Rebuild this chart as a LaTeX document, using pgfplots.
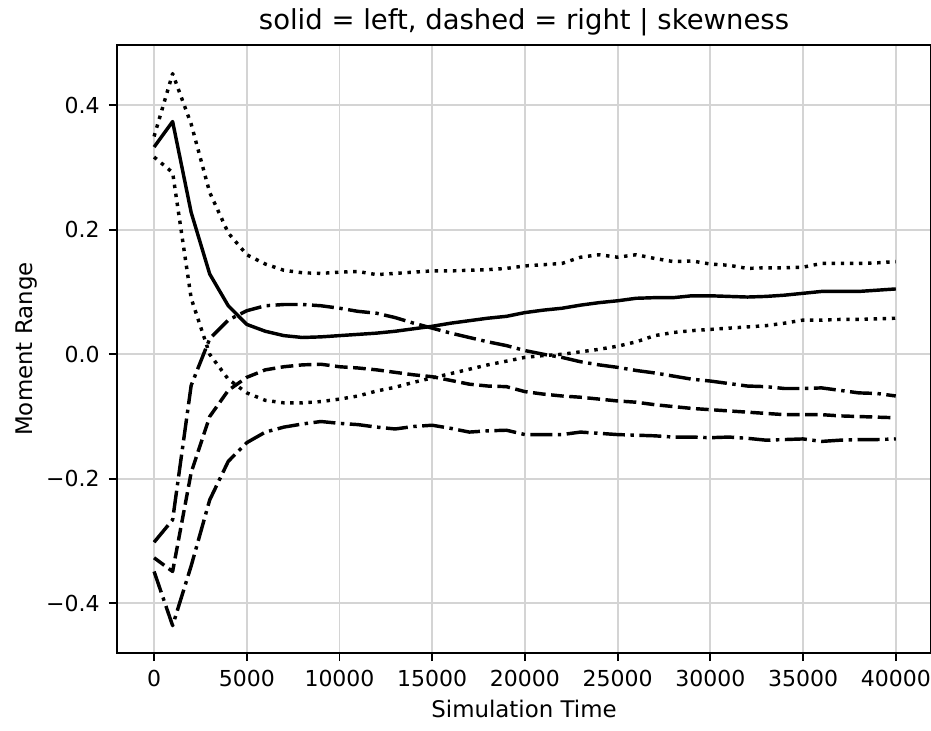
\documentclass[border=0pt]{standalone}
\usepackage{fontspec}
\setmainfont{DejaVu Sans}
\usepackage{pgfplots}
\usepackage{pgfplotstable}
\pgfplotsset{compat=1.18}

% x: simulation time, s: solid, du/dl: dotted upper/lower,
% dd: dashed, au/al: dash-dot upper/lower
\pgfplotstableread{
x     s      du     dl      dd      au      al
0     0.333  0.350  0.317  -0.327  -0.302  -0.349
1000  0.374  0.451  0.292  -0.349  -0.266  -0.436
2000  0.228  0.370  0.090  -0.190  -0.050  -0.340
3000  0.129  0.260  0.000  -0.100   0.025  -0.234
4000  0.078  0.195 -0.040  -0.058   0.055  -0.172
5000  0.048  0.160 -0.062  -0.037   0.070  -0.142
6000  0.037  0.145 -0.074  -0.025   0.078  -0.125
7000  0.030  0.135 -0.078  -0.020   0.080  -0.117
8000  0.027  0.131 -0.078  -0.017   0.080  -0.112
9000  0.028  0.130 -0.076  -0.016   0.078  -0.108
10000 0.030  0.132 -0.072  -0.020   0.074  -0.111
11000 0.032  0.133 -0.067  -0.022   0.069  -0.113
12000 0.034  0.128 -0.059  -0.025   0.066  -0.117
13000 0.037  0.130 -0.053  -0.029   0.059  -0.120
14000 0.041  0.132 -0.045  -0.033   0.050  -0.116
15000 0.045  0.134 -0.038  -0.036   0.042  -0.114
16000 0.050  0.134 -0.031  -0.042   0.034  -0.119
17000 0.054  0.135 -0.024  -0.048   0.027  -0.125
18000 0.058  0.136 -0.017  -0.051   0.020  -0.123
19000 0.061  0.138 -0.011  -0.052   0.014  -0.122
20000 0.067  0.142 -0.005  -0.060   0.006  -0.129
21000 0.071  0.144 -0.002  -0.064   0.000  -0.129
22000 0.074  0.146  0.000  -0.067  -0.005  -0.129
23000 0.079  0.156  0.004  -0.069  -0.012  -0.125
24000 0.083  0.160  0.008  -0.072  -0.017  -0.127
25000 0.086  0.156  0.013  -0.075  -0.021  -0.129
26000 0.090  0.160  0.020  -0.077  -0.026  -0.130
27000 0.091  0.154  0.030  -0.081  -0.030  -0.131
28000 0.091  0.149  0.035  -0.084  -0.035  -0.133
29000 0.094  0.150  0.038  -0.087  -0.040  -0.133
30000 0.094  0.145  0.040  -0.089  -0.043  -0.134
31000 0.093  0.143  0.042  -0.091  -0.047  -0.133
32000 0.092  0.138  0.044  -0.093  -0.051  -0.135
33000 0.093  0.139  0.046  -0.095  -0.052  -0.138
34000 0.095  0.139  0.050  -0.097  -0.055  -0.137
35000 0.098  0.140  0.055  -0.097  -0.055  -0.136
36000 0.101  0.146  0.055  -0.097  -0.054  -0.140
37000 0.101  0.146  0.056  -0.099  -0.058  -0.138
38000 0.101  0.146  0.056  -0.100  -0.062  -0.137
39000 0.103  0.147  0.057  -0.101  -0.063  -0.137
40000 0.105  0.149  0.058  -0.102  -0.067  -0.136
}\skew

\begin{document}
\begin{tikzpicture}
\begin{axis}[
  scale only axis,
  width=407pt, height=304pt,
  xmin=-2000, xmax=41900,
  ymin=-0.48, ymax=0.497,
  scaled x ticks=false, scaled y ticks=false,
  xtick={0,5000,10000,15000,20000,25000,30000,35000,40000},
  xticklabels={0,5000,10000,15000,20000,25000,30000,35000,40000},
  ytick={-0.4,-0.2,0,0.2,0.4},
  yticklabels={−0.4,−0.2,0.0,0.2,0.4},
  tick align=outside, tick pos=left,
  major tick length=4pt,
  tick style={black, line width=0.92pt},
  axis line style={line width=0.92pt},
  grid=major,
  major grid style={line width=0.92pt, color=black!17},
  tick label style={font=\fontsize{11}{13}\selectfont, inner sep=0pt},
  xticklabel style={yshift=-4.5pt},
  yticklabel style={xshift=-4.5pt},
  label style={font=\fontsize{11.45}{13.5}\selectfont},
  xlabel={Simulation Time},
  ylabel={Moment Range},
  xlabel style={at={(axis description cs:0.5,-0.1053)}, anchor=base},
  ylabel style={at={(axis description cs:-0.1032,0.5)}, anchor=base},
  title={solid = left, dashed = right | skewness},
  title style={font=\fontsize{13.74}{16}\selectfont, at={(axis description cs:0.5,1.005)}, anchor=base},
  every axis plot/.append style={black, line width=1.72pt, line join=round},
]
\addplot[solid] table[x=x, y=s] {\skew};
\addplot[dash pattern=on 1.72pt off 2.83pt] table[x=x, y=du] {\skew};
\addplot[dash pattern=on 1.72pt off 2.83pt] table[x=x, y=dl] {\skew};
\addplot[dash pattern=on 6.35pt off 2.75pt] table[x=x, y=dd] {\skew};
\addplot[dash pattern=on 11pt off 2.75pt on 1.72pt off 2.75pt] table[x=x, y=au] {\skew};
\addplot[dash pattern=on 11pt off 2.75pt on 1.72pt off 2.75pt] table[x=x, y=al] {\skew};
\end{axis}
\pgfresetboundingbox
\path ([xshift=-58.5pt, yshift=-38.5pt]current axis.south west)
  rectangle ([yshift=22.5pt]current axis.north east);
\end{tikzpicture}
\end{document}
